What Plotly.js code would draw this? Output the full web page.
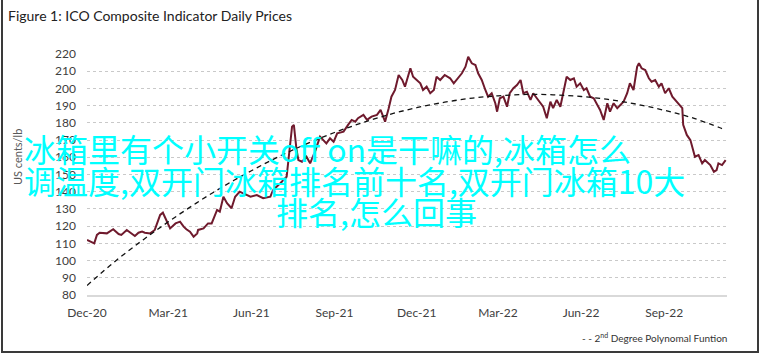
<!DOCTYPE html>
<html>
<head>
<meta charset="utf-8">
<script src="https://cdn.plot.ly/plotly-3.0.1.min.js"></script>
<style>
html,body{margin:0;padding:0;background:#fff;}
#wrap{position:relative;width:762px;height:356px;overflow:hidden;}
#chart{width:762px;height:356px;}
#frame{position:absolute;left:1px;top:-3px;width:758px;height:356px;border:2px solid #3a3a3a;box-sizing:border-box;pointer-events:none;}
</style>
</head>
<body>
<div id="wrap"><div id="chart"></div><div id="frame"></div></div>
<script>
// ICO composite indicator daily prices (US cents/lb)
const priceDates = [
 '2020-12-01','2020-12-06','2020-12-09','2020-12-12','2020-12-15','2020-12-23','2020-12-30',
 '2021-01-05','2021-01-08','2021-01-14','2021-01-20','2021-01-23','2021-01-27','2021-01-31',
 '2021-02-03','2021-02-09','2021-02-14','2021-02-20','2021-02-23','2021-02-27',
 '2021-03-03','2021-03-09','2021-03-14','2021-03-18','2021-03-21','2021-03-25','2021-03-29',
 '2021-04-02','2021-04-03','2021-04-09','2021-04-14','2021-04-18','2021-04-24','2021-04-27',
 '2021-05-01','2021-05-05','2021-05-10','2021-05-14','2021-05-19','2021-05-23','2021-05-31',
 '2021-06-07','2021-06-14','2021-06-22','2021-06-25',
 '2021-07-03','2021-07-10','2021-07-16','2021-07-18','2021-07-21','2021-07-23','2021-07-27',
 '2021-08-01','2021-08-05','2021-08-11','2021-08-16','2021-08-20','2021-08-23','2021-08-27','2021-08-31',
 '2021-09-04','2021-09-11','2021-09-16','2021-09-20','2021-09-24','2021-09-27',
 '2021-10-03','2021-10-07','2021-10-12','2021-10-18','2021-10-22','2021-10-27','2021-10-31',
 '2021-11-03','2021-11-07','2021-11-11','2021-11-15','2021-11-18','2021-11-24','2021-11-27',
 '2021-12-01','2021-12-05','2021-12-08','2021-12-12','2021-12-16','2021-12-20','2021-12-23','2021-12-27',
 '2022-01-01','2022-01-07','2022-01-11','2022-01-14','2022-01-20','2022-01-24','2022-01-27','2022-01-31',
 '2022-02-04','2022-02-07','2022-02-11','2022-02-15','2022-02-18','2022-02-22','2022-02-26','2022-02-28',
 '2022-03-03','2022-03-07','2022-03-11','2022-03-14','2022-03-18','2022-03-22','2022-03-26','2022-03-29',
 '2022-04-02','2022-04-06','2022-04-09','2022-04-13','2022-04-17','2022-04-20','2022-04-24','2022-04-28',
 '2022-05-01','2022-05-05','2022-05-09','2022-05-13','2022-05-16','2022-05-20','2022-05-24','2022-05-27','2022-05-31',
 '2022-06-04','2022-06-07','2022-06-11','2022-06-15','2022-06-19','2022-06-22','2022-06-26','2022-06-30',
 '2022-07-03','2022-07-07','2022-07-11','2022-07-14','2022-07-18','2022-07-22','2022-07-25','2022-07-29',
 '2022-08-02','2022-08-04','2022-08-07','2022-08-11','2022-08-15','2022-08-18','2022-08-22','2022-08-26','2022-08-29',
 '2022-09-02','2022-09-06','2022-09-10','2022-09-13','2022-09-17','2022-09-21','2022-09-22','2022-09-26','2022-09-30',
 '2022-10-05','2022-10-09','2022-10-13','2022-10-16','2022-10-22','2022-10-26','2022-10-29','2022-10-31',
 '2022-11-04','2022-11-08'
];
const priceValues = [
 112.0,111.0,110.0,114.9,116.2,115.8,118.2,
 115.4,114.9,117.8,115.8,114.3,116.2,116.8,
 116.2,115.8,117.8,126.5,127.8,123.6,
 118.7,121.6,122.6,119.7,118.2,116.8,113.9,
 115.8,117.8,118.7,121.6,121.6,129.4,128.4,
 137.1,133.3,130.4,137.1,140.0,139.0,137.1,
 138.1,136.2,137.1,141.0,
 144.9,148.7,177.8,178.8,164.2,158.4,157.4,
 160.3,156.5,164.2,172.0,170.0,168.1,171.0,169.0,
 173.9,174.9,178.8,181.7,180.7,182.7,
 184.6,181.7,183.6,184.6,187.5,180.7,188.5,
 195.2,199.1,207.8,204.9,201.0,211.7,206.8,
 204.9,203.0,199.1,201.0,197.2,199.1,206.8,204.9,
 207.8,205.9,203.0,204.9,208.8,212.6,218.4,214.6,
 213.6,208.8,204.9,199.1,195.2,197.2,191.4,186.5,
 194.3,195.2,189.4,197.2,200.1,202.0,204.9,197.2,
 198.1,193.3,197.2,194.3,191.4,189.4,182.7,192.3,
 188.5,193.3,189.4,199.1,206.8,204.9,205.9,201.0,203.0,
 199.1,200.1,195.2,194.3,190.4,187.5,181.7,191.4,
 186.5,191.4,188.5,190.4,192.3,197.2,203.0,199.1,
 212.6,214.6,211.7,210.7,205.9,203.9,204.9,201.0,203.0,
 197.2,200.1,195.2,193.3,191.4,188.5,178.8,173.0,170.0,
 160.3,161.3,156.5,158.4,155.5,151.6,152.6,156.5,
 155.5,158.4
];
// 2nd degree polynomial trend at month starts
const trendDates = [
 '2020-12-01','2021-01-01','2021-02-01','2021-03-01','2021-04-01','2021-05-01','2021-06-01',
 '2021-07-01','2021-08-01','2021-09-01','2021-10-01','2021-11-01','2021-12-01',
 '2022-01-01','2022-02-01','2022-03-01','2022-04-01','2022-05-01','2022-06-01',
 '2022-07-01','2022-08-01','2022-09-01','2022-10-01','2022-11-01','2022-11-08'
];
const trendValues = [
 85.5,99.5,112.0,122.5,133.4,143.1,152.2,
 160.3,167.8,174.4,179.9,184.9,188.8,
 192.0,194.4,195.7,196.5,196.3,195.3,
 193.6,190.9,187.3,183.1,177.3,175.8
];
const tickDates = ['2020-12-01','2021-03-01','2021-06-01','2021-09-01','2021-12-01','2022-03-01','2022-06-01','2022-09-01'];
const tickLabels = ['Dec-20','Mar-21','Jun-21','Sep-21','Dec-21','Mar-22','Jun-22','Sep-22'];
const yTicks = [80,90,100,110,120,130,140,150,160,170,180,190,200,210,220];

const overlayLines = ['冰箱里有个小开关off on是干嘛的,冰箱怎么','调温度,双开门冰箱排名前十名,双开门冰箱10大','排名,怎么回事'];

// plot-area pixel helpers for annotation placement
const L = 87, R = 727, T = 54, B = 295;
const px = x => (x - L) / (R - L);
const py = y => (B - y) / (B - T);

const traces = [
 {x: priceDates, y: priceValues, type: 'scatter', mode: 'lines', name: 'ICO Composite',
  line: {color: '#6f1a2d', width: 2}, hoverinfo: 'skip', showlegend: false},
 {x: trendDates, y: trendValues, type: 'scatter', mode: 'lines', name: '2nd Degree Polynomal Funtion',
  line: {color: '#111', width: 1.3, dash: '5px,4px', shape: 'spline'}, hoverinfo: 'skip', showlegend: false}
];

const baseFont = 'Lato, "Liberation Sans", sans-serif';
const cjkFont = {family: '"Noto Sans CJK SC", sans-serif', size: 32, color: '#00ffff'};
const layout = {
 width: 762, height: 356,
 margin: {l: L, r: 762 - R, t: T, b: 356 - B},
 paper_bgcolor: '#fff', plot_bgcolor: '#fff',
 font: {family: baseFont, color: '#404040', size: 12},
 title: {text: 'Figure 1: ICO Composite Indicator Daily Prices', xref: 'container', yref: 'container',
  x: 8 / 762, xanchor: 'left', y: 1 - 16 / 356, yanchor: 'middle',
  font: {family: baseFont, size: 14, color: '#222'}},
 xaxis: {type: 'date', range: ['2020-12-01', '2022-11-09 12:00'], tickvals: tickDates, ticktext: tickLabels,
  showgrid: false, showline: true, linecolor: '#d9d9d9', linewidth: 1.5, ticks: '', zeroline: false,
  tickfont: {size: 12, color: '#404040'}, ticklabelstandoff: 6, fixedrange: true},
 yaxis: {range: [80, 220], tickvals: yTicks, showgrid: true, gridcolor: '#c9c9c9', griddash: 'dot', gridwidth: 1,
  zeroline: false, showline: false, ticks: '', tickfont: {size: 12, color: '#404040'}, ticklabelstandoff: 10,
  fixedrange: true},
 showlegend: false,
 annotations: [
  {text: 'US cents/lb', xref: 'paper', yref: 'paper', x: px(17), y: py(157), textangle: -90,
   showarrow: false, xanchor: 'center', yanchor: 'middle', font: {size: 11, color: '#595959'}},
  {text: '- - 2<sup>nd</sup> Degree Polynomal Funtion', xref: 'paper', yref: 'paper', x: px(729), y: py(337),
   showarrow: false, xanchor: 'right', yanchor: 'middle', font: {size: 10, color: '#333'}},
  {text: overlayLines[0], xref: 'paper', yref: 'paper', x: px(22), y: py(148), showarrow: false,
   xanchor: 'left', yanchor: 'middle', font: cjkFont},
  {text: overlayLines[1], xref: 'paper', yref: 'paper', x: px(22), y: py(179.5), showarrow: false,
   xanchor: 'left', yanchor: 'middle', font: cjkFont},
  {text: overlayLines[2], xref: 'paper', yref: 'paper', x: px(376), y: py(210.5), showarrow: false,
   xanchor: 'center', yanchor: 'middle', font: cjkFont}
 ]
};

Plotly.newPlot('chart', traces, layout, {staticPlot: true, displayModeBar: false});
</script>
</body>
</html>
